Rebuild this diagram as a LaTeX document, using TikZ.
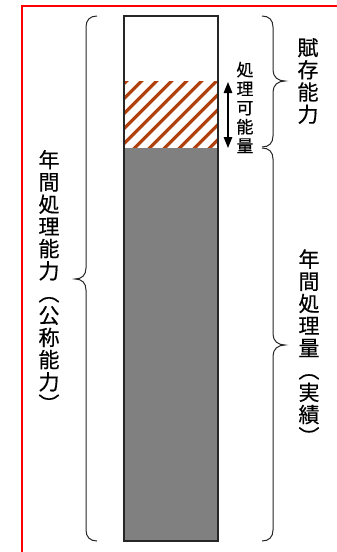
\documentclass[tikz,border=0pt]{standalone}
\usepackage{fontspec}
\newfontfamily\jpfont[FakeBold=0.4]{Noto Sans CJK JP}
\usetikzlibrary{arrows.meta}
\definecolor{hatchbrown}{RGB}{176,64,12}
\definecolor{bargray}{RGB}{128,128,128}
\tikzset{
  brace/.style={line width=1pt, black!85},
  vlabel/.style={inner sep=0pt, align=center, font={\jpfont\fontsize{21}{22.2}\selectfont}},
  vlabelsmall/.style={inner sep=0pt, align=center, font={\jpfont\fontsize{17}{19}\selectfont}},
  frameline/.style={draw=red, line width=2pt},
}
\begin{document}
\begin{tikzpicture}[x=1pt,y=-1pt]
\useasboundingbox[fill=white] (0,0) rectangle (337,552);
% red frame
\draw[frameline] (22.3,560) -- (22.3,5.7) -- (345,5.7);
% bar coordinates
\coordinate (barTL) at (124,16);
\coordinate (hatchT) at (124,81);
\coordinate (grayT) at (124,147.5);
\coordinate (barBR) at (218,541);
% gray part
\fill[bargray] (grayT) rectangle (barBR);
% hatched part
\begin{scope}
  \clip (hatchT) rectangle (218,147.5);
  \foreach \k in {-1,...,12} {
    \pgfmathsetmacro{\c}{207.7+15*\k}
    \draw[hatchbrown, line width=3.2pt] (\c-160,160) -- (\c-70,70);
  }
\end{scope}
% bar outline
\draw[line width=1.1pt, black!85] (barTL) rectangle (barBR);
% arrow
\coordinate (arrT) at (228,82);
\coordinate (arrB) at (228,148);
\draw[line width=1.3pt, {Triangle[width=8.5pt,length=11pt]}-{Triangle[width=8.5pt,length=11pt]}] (arrT) -- (arrB);
% left brace
\draw[brace] (97,16) .. controls (90,16) and (86,20) .. (86,27) -- (86,268)
  .. controls (86,275) and (82,279) .. (75,279)
  .. controls (82,279) and (86,283) .. (86,290) -- (86,530)
  .. controls (86,537) and (90,541) .. (97,541);
% right upper brace
\draw[brace] (262,16) .. controls (269,16) and (273,20) .. (273,27) -- (273,70)
  .. controls (273,77) and (278,81) .. (285,81)
  .. controls (278,81) and (273,85) .. (273,92) -- (273,136)
  .. controls (273,143) and (269,147) .. (262,147);
% right lower brace
\draw[brace] (262,148) .. controls (269,148) and (273,152) .. (273,159) -- (273,334)
  .. controls (273,341) and (278,345) .. (285,345)
  .. controls (278,345) and (273,349) .. (273,356) -- (273,530)
  .. controls (273,537) and (269,541) .. (262,541);
% labels
\node[vlabel] (fuzon) at (308,81) {賦\\存\\能\\力};
\node[vlabelsmall] (kanou) at (245,107.5) {処\\理\\可\\能\\量};
\node[vlabel] (nenkan) at (49,281) {年\\間\\処\\理\\能\\力\\︵\\公\\称\\能\\力\\︶};
\node[vlabel] (jisseki) at (309,347) {年\\間\\処\\理\\量\\︵\\実\\績\\︶};
\end{tikzpicture}
\end{document}
